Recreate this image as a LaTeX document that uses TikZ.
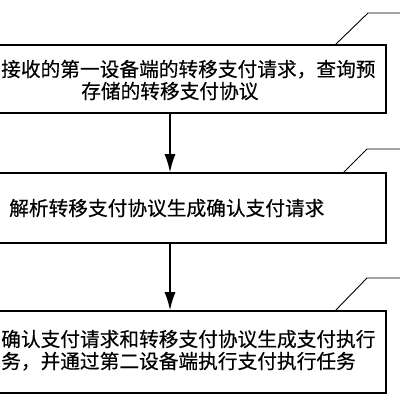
\documentclass[tikz,border=0pt]{standalone}
\usepackage{fontspec}
\newfontfamily\cjk[FakeBold=0.4]{Noto Sans CJK SC}
\usetikzlibrary{arrows.meta}

\tikzset{
  stepbox/.style={draw, line width=1.5pt, minimum width=432pt, inner sep=0pt},
  steptext/.style={anchor=base west, inner sep=0pt, font=\cjk\fontsize{19.7}{22}\selectfont},
  leader/.style={line width=0.9pt}
}

\begin{document}
\begin{tikzpicture}[x=1pt, y=1pt]
  \useasboundingbox (0,0) rectangle (400,400);

  % The three step boxes
  \node[stepbox, minimum height=68pt] (box1) at (170,321) {};
  \node[stepbox, minimum height=70pt] (box2) at (170,192) {};
  \node[stepbox, minimum height=82pt] (box3) at (170,48) {};

  % Texts inside the boxes
  \node[steptext] (text1a) at (1,323.5) {接收的第一设备端的转移支付请求，查询预};
  \node[steptext] (text1b) at (81,301.5) {存储的转移支付协议};
  \node[steptext] (text2) at (9,184.5) {解析转移支付协议生成确认支付请求};
  \node[steptext] (text3a) at (1,53.5) {确认支付请求和转移支付协议生成支付执行};
  \node[steptext] (text3b) at (1,31.5) {务，并通过第二设备端执行支付执行任务};

  % Arrows between the boxes
  \draw[line width=1.5pt, -{Latex[length=18pt, width=11pt]}] (box1.south) -- (box2.north);
  \draw[line width=1.5pt, -{Latex[length=18pt, width=11pt]}] (box2.south) -- (box3.north);

  % Leader lines for the step labels
  \coordinate (lab1) at (400,387);
  \coordinate (lab2) at (400,251);
  \coordinate (lab3) at (400,122);
  \draw[leader] (335,355) -- (368,387) -- (lab1);
  \draw[leader] (343,227) -- (367,251) -- (lab2);
  \draw[leader] (335,89) -- (367,122) -- (lab3);
\end{tikzpicture}
\end{document}
